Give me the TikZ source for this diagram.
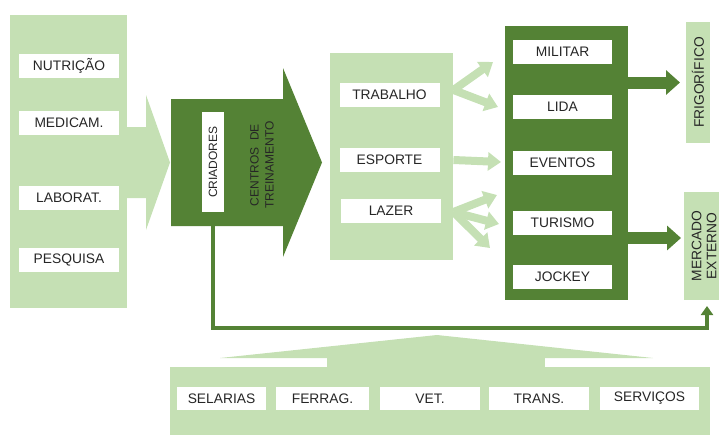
\documentclass[tikz,border=0pt]{standalone}
\usepackage{fontspec}
\setmainfont{Liberation Sans}
\usetikzlibrary{arrows.meta,positioning}
\definecolor{lightgreen}{HTML}{C5E0B4}
\definecolor{darkgreen}{HTML}{548235}
\definecolor{ink}{HTML}{262626}
\tikzstyle{panel}=[fill=lightgreen, inner sep=0pt, anchor=north west]
\tikzstyle{item}=[fill=white, text=ink, inner sep=0pt, minimum width=100pt, minimum height=24pt, font=\fontsize{13.8}{16}\selectfont]
\tikzstyle{sidepanel}=[fill=lightgreen, text=ink, inner sep=0pt, rotate=90, align=center, font=\fontsize{13.8}{15}\selectfont]
\tikzstyle{flow}=[draw=lightgreen, line width=8pt, -{Triangle[width=18pt,length=13pt]}]
\tikzstyle{outflow}=[draw=darkgreen, line width=12pt, -{Triangle[width=24pt,length=14pt]}]
\tikzstyle{feedback}=[draw=darkgreen, line width=4pt, -{Triangle[width=12pt,length=9pt]}]

\begin{document}
\begin{tikzpicture}[x=1pt,y=-1pt]
\useasboundingbox (0,0) rectangle (719,434);

% inputs
\node [panel, minimum width=117pt, minimum height=293pt] (inputs) at (10,15) {};
\fill [lightgreen] (120,127) -- (146,127) -- (146,95) -- (170,162.5) -- (146,230) -- (146,198) -- (120,198) -- cycle;
\node [item] (nutricao) at (69,66) {NUTRIÇÃO};
\node [item] (medicam) at (69,123) {MEDICAM.};
\node [item] (laborat) at (69,198) {LABORAT.};
\node [item] (pesquisa) at (69,260) {PESQUISA};

% breeders and training centres
\fill [darkgreen] (171,99) -- (283,99) -- (283,68) -- (322,162.5) -- (283,257) -- (283,226) -- (171,226) -- cycle;
\node [item, rotate=90, minimum width=100pt, minimum height=22pt, font=\fontsize{12}{14}\selectfont] (criadores) at (213,162) {CRIADORES};
\node [rotate=90, text=ink, align=center, font=\fontsize{12}{15}\selectfont] (centros) at (262,165) {CENTROS\ \ DE\\TREINAMENTO};

% uses
\node [panel, minimum width=123pt, minimum height=207pt] (uses) at (330,53) {};
\node [item] (trabalho) at (389.5,95) {TRABALHO};
\node [item] (esporte) at (389.5,160) {ESPORTE};
\node [item] (lazer) at (391,210.5) {LAZER};

% activities
\node [panel, fill=darkgreen, minimum width=123pt, minimum height=274pt] (activities) at (505,26) {};
\node [item, minimum width=99pt] (militar) at (562.5,51.5) {MILITAR};
\node [item, minimum width=99pt] (lida) at (562.5,107) {LIDA};
\node [item, minimum width=99pt] (eventos) at (562.5,163) {EVENTOS};
\node [item, minimum width=99pt] (turismo) at (562.5,222.5) {TURISMO};
\node [item, minimum width=99pt] (jockey) at (562.5,277) {JOCKEY};

% outlets
\node [sidepanel, minimum width=121pt, minimum height=24pt] (frigorifico) at (698,82.5) {FRIGORÍFICO};
\node [sidepanel, minimum width=108pt, minimum height=40pt] (mercado) at (704,246) {MERCADO\\EXTERNO};

% suppliers
\fill [lightgreen] (220,358) -- (437,335) -- (653,358) -- cycle;
\fill [lightgreen] (327,357) rectangle (545,368);
\node [panel, minimum width=540pt, minimum height=70pt] (suppliers) at (170,367) {};
\node [item, minimum width=89pt, minimum height=23pt] (selarias) at (221.5,398.5) {SELARIAS};
\node [item, minimum width=93pt, minimum height=23pt] (ferrag) at (322.5,398.5) {FERRAG.};
\node [item, minimum width=100pt, minimum height=23pt] (vet) at (430,398.5) {VET.};
\node [item, minimum width=100pt, minimum height=23pt] (trans) at (539,398.5) {TRANS.};
\node [item, minimum width=99pt, minimum height=23pt] (servicos) at (649.5,398.5) {SERVIÇOS};

% flows between the blocks
\draw [flow] (uses.east |- 0,90) -- (493,62);
\draw [flow] (uses.east |- 0,90) -- (498,107);
\draw [flow] (uses.east |- esporte) -- (501,162);
\draw [flow] (uses.east |- 0,212) -- (497,195);
\draw [flow] (uses.east |- 0,212) -- (499,224);
\draw [flow] (uses.east |- 0,212) -- (490,248);
\draw [outflow] (activities.east |- frigorifico) -- (680,82.5);
\draw [outflow] (activities.east |- 0,238) -- (681,238);

\coordinate (feedcorner) at (707,328);
\coordinate (feedend) at (707,306);
\draw [feedback] (criadores.west) |- (feedcorner) -- (feedend);
\end{tikzpicture}
\end{document}
